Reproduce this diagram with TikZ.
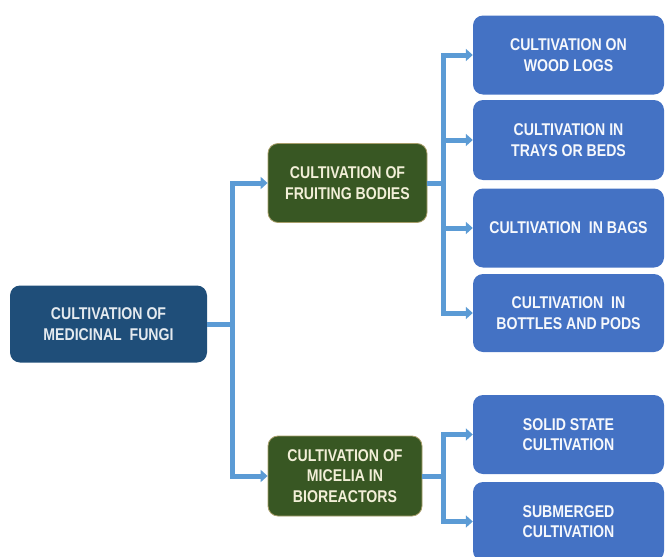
\documentclass[tikz,border=0pt]{standalone}
\usepackage{fontspec}
\setmainfont{Liberation Sans}[FakeStretch=0.83]
\usetikzlibrary{arrows.meta}
\definecolor{rootblue}{HTML}{1F4E79}
\definecolor{leafgreen}{HTML}{385723}
\definecolor{boxblue}{HTML}{4472C4}
\definecolor{connblue}{HTML}{5B9BD5}
\definecolor{cream}{HTML}{F2EFD8}
\definecolor{edgeolive}{HTML}{A89E6A}
\begin{document}
\begin{tikzpicture}[x=1pt,y=-1pt,
  base/.style={rounded corners=10pt, align=center, inner sep=2pt,
    font=\fontsize{17}{20.5}\selectfont\bfseries},
  rootbox/.style={base, fill=rootblue, text=white!88!rootblue, draw=none},
  midbox/.style={base, fill=leafgreen, text=cream, draw=edgeolive, line width=0.8pt},
  leafbox/.style={base, fill=boxblue, text=white!95!boxblue, draw=none},
  conn/.style={draw=connblue, line width=5pt, line join=miter},
  arr/.style={conn, -{Triangle[length=7pt,width=12pt]}}]
\useasboundingbox (0,0) rectangle (665,557);
\node[rootbox, minimum width=197pt, minimum height=77pt] (root) at (108.5,324) {CULTIVATION OF\\MEDICINAL\ \ FUNGI};
\node[midbox, minimum width=159pt, minimum height=79pt] (fruit) at (347.5,183) {CULTIVATION OF\\FRUITING BODIES};
\node[midbox, minimum width=154pt, minimum height=80pt] (mic) at (345,476) {CULTIVATION OF\\MICELIA IN\\BIOREACTORS};
\node[leafbox, minimum width=191pt, minimum height=79pt] (b1) at (568.5,55) {CULTIVATION ON\\WOOD LOGS};
\node[leafbox, minimum width=191pt, minimum height=80pt] (b2) at (568.5,140) {CULTIVATION IN\\TRAYS OR BEDS};
\node[leafbox, minimum width=191pt, minimum height=79pt] (b3) at (568.5,228) {CULTIVATION\ \ IN BAGS};
\node[leafbox, minimum width=191pt, minimum height=78pt] (b4) at (568.5,313) {CULTIVATION\ \ IN\\BOTTLES AND PODS};
\node[leafbox, minimum width=191pt, minimum height=79pt] (b5) at (568.5,434.5) {SOLID STATE\\CULTIVATION};
\node[leafbox, minimum width=191pt, minimum height=79pt] (b6) at (568.5,521.5) {SUBMERGED\\CULTIVATION};
\coordinate (j1) at (232,324);
\coordinate (j2) at (443,183);
\coordinate (j3) at (443,476);
\draw[conn] (root.east) -- (j1);
\draw[arr] (j1) |- (fruit.west);
\draw[arr] (j1) |- (mic.west);
\draw[conn] (fruit.east) -- (j2);
\draw[arr] (j2) |- (b1.west);
\draw[arr] (j2) |- (b2.west);
\draw[arr] (j2) |- (b3.west);
\draw[arr] (j2) |- (b4.west);
\draw[conn] (mic.east) -- (j3);
\draw[arr] (j3) |- (b5.west);
\draw[arr] (j3) |- (b6.west);
\end{tikzpicture}
\end{document}
